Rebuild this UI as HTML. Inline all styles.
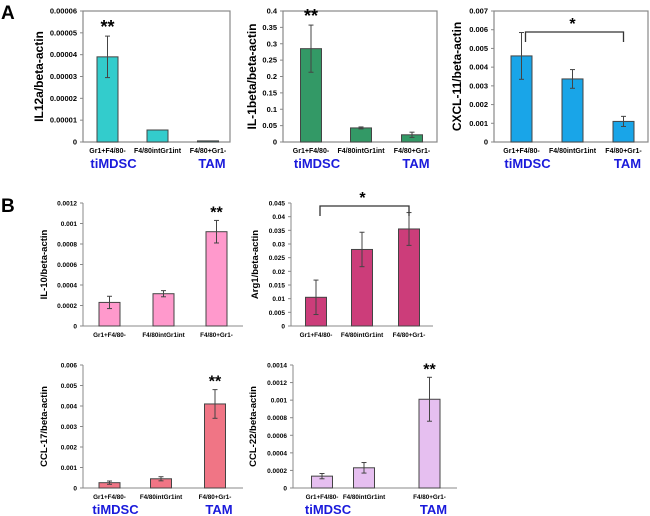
<!DOCTYPE html>
<html><head><meta charset="utf-8"><style>
body{margin:0;background:#fff;}
svg{display:block;font-family:"Liberation Sans",Arial,sans-serif;}
</style></head><body>
<svg id="c" width="650" height="516" viewBox="0 0 650 516">
<text x="1" y="19" font-size="19" font-weight="bold">A</text>
<text x="1" y="212" font-size="19" font-weight="bold">B</text>
</svg>
<script>
const categories = ["Gr1+F4/80-","F4/80intGr1int","F4/80+Gr1-"];
const il12Values = [0.000039,0.0000055,0.0000005];
const il12Err = [0.0000095,0,0];
const il12Ticks = ["0","0.00001","0.00002","0.00003","0.00004","0.00005","0.00006"];
const il1Values = [0.285,0.043,0.022];
const il1Err = [0.072,0.003,0.008];
const il1Ticks = ["0","0.05","0.1","0.15","0.2","0.25","0.3","0.35","0.4"];
const cxclValues = [0.0046,0.00337,0.0011];
const cxclErr = [0.00125,0.0005,0.00027];
const cxclTicks = ["0","0.001","0.002","0.003","0.004","0.005","0.006","0.007"];
const il10Values = [0.00023,0.000315,0.00092];
const il10Err = [0.00006,0.00003,0.00011];
const il10Ticks = ["0","0.0002","0.0004","0.0006","0.0008","0.001","0.0012"];
const argValues = [0.0105,0.028,0.0355];
const argErr = [0.0063,0.0063,0.006];
const argTicks = ["0","0.005","0.01","0.015","0.02","0.025","0.03","0.035","0.04","0.045"];
const ccl17Values = [0.00026,0.00045,0.0041];
const ccl17Err = [0.00008,0.0001,0.0007];
const ccl17Ticks = ["0","0.001","0.002","0.003","0.004","0.005","0.006"];
const ccl22Values = [0.000135,0.00023,0.00101];
const ccl22Err = [0.00003,0.00006,0.00025];
const ccl22Ticks = ["0","0.0002","0.0004","0.0006","0.0008","0.001","0.0012","0.0014"];

const svg=document.getElementById('c');
const NS="http://www.w3.org/2000/svg";
function mk(tag,attrs,parent){const e=document.createElementNS(NS,tag);for(const k in attrs)e.setAttribute(k,attrs[k]);(parent||svg).appendChild(e);return e;}

function chart(o){
  const g=mk('g',{});
  
  
  const max=parseFloat(o.ticks[o.ticks.length-1]);
  const y=v=>o.bot-(v/max)*(o.bot-o.top);
  const fs=o.big?7.5:6.5;
  if(o.box){const r=mk('rect',{x:o.x0,y:o.top,width:o.x1-o.x0,height:o.bot-o.top,fill:'none',stroke:'#888','stroke-width':1.2},g);
    }
  else{
    const a=mk('line',{x1:o.x0,y1:o.top,x2:o.x0,y2:o.bot,stroke:'#888','stroke-width':1},g);
    
    const b=mk('line',{x1:o.x0,y1:o.bot,x2:o.x1,y2:o.bot,stroke:'#888','stroke-width':1},g);
    
  }
  o.ticks.forEach(t=>{const v=parseFloat(t),yy=y(v);
    mk('line',{x1:o.x0-3,y1:yy,x2:o.x0,y2:yy,stroke:'#888'},g);
    const tx=mk('text',{x:o.x0-6,y:yy+2.5,'font-size':fs,'font-weight':'bold','text-anchor':'end'},g);
    tx.textContent=t;
    
    
  });
  const tt=mk('text',{transform:`translate(${o.tx},${(o.top+o.bot)/2}) rotate(-90)`,'font-size':o.big?12:9.5,'font-weight':'bold','text-anchor':'middle'},g);
  tt.textContent=o.title;
  
  
  o.values.forEach((v,i)=>{
    const cx=o.cx[i],w=o.bw||21;
    const r=mk('rect',{x:cx-w/2,y:y(v),width:w,height:o.bot-y(v),fill:o.color,stroke:'#444','stroke-width':1},g);
    
    
    const e=o.err[i];
    if(e>0){
      const eg=mk('g',{stroke:'#444','stroke-width':1},g);
      
      
      mk('line',{x1:cx,y1:y(v+e),x2:cx,y2:y(v-e)},eg);
      mk('line',{x1:cx-2.5,y1:y(v+e),x2:cx+2.5,y2:y(v+e)},eg);
      mk('line',{x1:cx-2.5,y1:y(v-e),x2:cx+2.5,y2:y(v-e)},eg);
    }
    const cl=mk('text',{x:cx,y:o.bot+11,'font-size':o.big?7:6.3,'font-weight':'bold','text-anchor':'middle'},g);
    cl.textContent=categories[i];
    
    
  });
  if(o.groups){
    const a=mk('text',{x:o.cx[0]+6,y:o.gy,'font-size':13,'font-weight':'bold',fill:'#1a1adb','text-anchor':'middle'},g);
    a.textContent='tiMDSC';
    const b=mk('text',{x:o.cx[2]+4,y:o.gy,'font-size':13,'font-weight':'bold',fill:'#1a1adb','text-anchor':'middle'},g);
    b.textContent='TAM';
  }
  if(o.star2!==undefined){
    const i=o.star2,v=o.values[i]+o.err[i];
    const s=mk('text',{x:o.cx[i],y:y(v)-3,'font-size':o.big?18:16,'font-weight':'bold','text-anchor':'middle'},g);
    s.textContent='**';
  }
  if(o.bracket){
    const by=o.bracket;
    const p=mk('path',{d:`M${o.cx[0]+4},${by+10}V${by}H${o.cx[2]}V${by+10}`,fill:'none',stroke:'#333','stroke-width':1.3},g);
    
    const s=mk('text',{x:(o.cx[0]+o.cx[2])/2,y:by-3,'font-size':16,'font-weight':'bold','text-anchor':'middle'},g);
    s.textContent='*';
  }
}
chart({name:'il12a-chart',big:1,box:1,x0:83,x1:230,top:11,bot:142,tx:43,title:'IL12a/beta-actin',values:il12Values,err:il12Err,ticks:il12Ticks,cx:[107.5,157.5,208],color:'#33cccc',groups:1,gy:168,star2:0});
chart({name:'il1beta-chart',big:1,box:1,x0:283,x1:437,top:11,bot:142,tx:256,title:'IL-1beta/beta-actin',values:il1Values,err:il1Err,ticks:il1Ticks,cx:[311,361,412],color:'#339966',groups:1,gy:168,star2:0});
chart({name:'cxcl11-chart',big:1,box:1,x0:494,x1:648,top:11,bot:142,tx:461,title:'CXCL-11/beta-actin',values:cxclValues,err:cxclErr,ticks:cxclTicks,cx:[521.5,572.5,623.5],color:'#19a5e8',groups:1,gy:168,bracket:32});
chart({name:'il10-chart',x0:83,x1:243,top:203,bot:326,tx:47,title:'IL-10/beta-actin',values:il10Values,err:il10Err,ticks:il10Ticks,cx:[109.5,163.5,216.5],color:'#ff99cc',star2:2});
chart({name:'arg1-chart',x0:291,x1:433,top:203,bot:326,tx:258,title:'Arg1/beta-actin',values:argValues,err:argErr,ticks:argTicks,cx:[316,362,409],color:'#cc3d7a',bracket:206});
chart({name:'ccl17-chart',x0:83,x1:243,top:365,bot:488,tx:47,title:'CCL-17/beta-actin',values:ccl17Values,err:ccl17Err,ticks:ccl17Ticks,cx:[109.5,161,215],color:'#f07585',groups:1,gy:514,star2:2});
chart({name:'ccl22-chart',x0:293,x1:457,top:365,bot:488,tx:256,title:'CCL-22/beta-actin',values:ccl22Values,err:ccl22Err,ticks:ccl22Ticks,cx:[322,364,429.5],color:'#e6bff0',groups:1,gy:514,star2:2});
</script>
</body></html>
